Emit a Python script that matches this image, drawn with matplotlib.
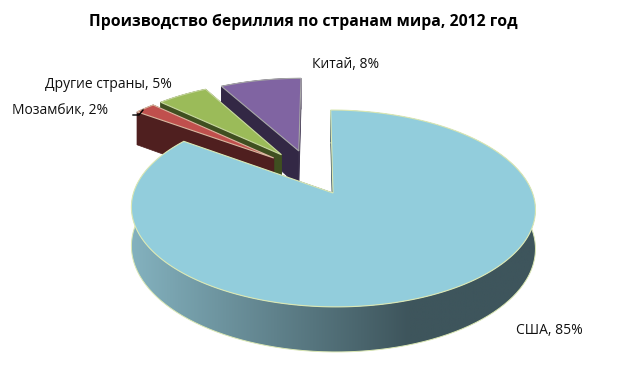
import numpy as np
import matplotlib
matplotlib.use('Agg')
import matplotlib.pyplot as plt
from matplotlib.colors import LinearSegmentedColormap
from matplotlib.patches import Polygon

categories = ['США', 'Мозамбик', 'Другие страны', 'Китай']
shares = [85, 2, 5, 8]

top_colors = ['#92cddc', '#c0504d', '#9bbb59', '#8064a2']
side_colors = ['#3e555c', '#4f1f1f', '#3f4f20', '#332845']
edge_colors = ['#dbe8b4', '#d8b8a0', '#c8d8a0', '#a8a8a8']
label_pos = [(516, 330), (12, 111), (45, 84), (312, 64)]

# projection of the pie plane onto the picture (pixels)
XV, Y0 = 316, 193
XC = 17
A, B, K = 199.5, 96, 0.157
DEPTH = 38
EXPLODE = 0.253

plt.rcParams['font.family'] = ['Open Sans', 'DejaVu Sans']

fig = plt.figure(figsize=(6.2, 3.7), dpi=100)
ax = fig.add_axes([0, 0, 1, 1])
ax.set_xlim(0, 620)
ax.set_ylim(370, 0)
ax.axis('off')


def project(u, v, low=False):
    w = 1 + K * v
    x = XV + (A * u + XC) / w
    y = Y0 - B * v / w
    if low:
        y = y + DEPTH / w
    return np.column_stack([x, y])


fractions = np.array(shares) / sum(shares)
ends = np.cumsum(fractions) * 2 * np.pi
starts = ends - fractions * 2 * np.pi
mids = (starts + ends) / 2

# the big slice sits at the origin, the others are moved relative to it
off_u = EXPLODE * (np.sin(mids) - np.sin(mids[0]))
off_v = EXPLODE * (np.cos(mids) - np.cos(mids[0]))

shade = LinearSegmentedColormap.from_list('shade', [(0, '#84b2bf'), (0.68, side_colors[0]), (1, side_colors[0])])

for i in [3, 2, 1, 0]:
    t = np.linspace(starts[i], ends[i], 400)
    u = off_u[i] + np.sin(t)
    v = off_v[i] + np.cos(t)
    ou, ov = np.array([off_u[i]]), np.array([off_v[i]])
    arc_top = project(u, v)
    arc_low = project(u, v, low=True)
    apex_top = project(ou, ov)
    apex_low = project(ou, ov, low=True)
    z = i * -3 + 10

    # radial faces
    for j in [0, -1]:
        face = np.vstack([apex_top, arc_top[j], arc_low[j], apex_low])
        ax.add_patch(Polygon(face, closed=True, fc=side_colors[i], ec=side_colors[i], lw=0.5, zorder=z))

    # outer side, the big slice gets a left to right shading
    side = np.vstack([arc_top, arc_low[::-1]])
    if i == 0:
        clip = Polygon(side, closed=True, fc='none', ec='none', zorder=z)
        ax.add_patch(clip)
        grad = np.linspace(0, 1, 256).reshape(1, -1)
        im = ax.imshow(grad, cmap=shade, extent=[130, 540, 370, 100], aspect='auto', zorder=z)
        im.set_clip_path(clip)
        ax.plot(arc_low[:, 0], arc_low[:, 1], color=edge_colors[i], lw=0.7, zorder=z + 0.5)
    else:
        ax.add_patch(Polygon(side, closed=True, fc=side_colors[i], ec=side_colors[i], lw=0.5, zorder=z))

    top = np.vstack([apex_top, arc_top])
    ax.add_patch(Polygon(top, closed=True, fc=top_colors[i], ec=edge_colors[i], lw=0.8, zorder=z + 1))

ax.set_xlim(0, 620)
ax.set_ylim(370, 0)

ax.text(303, 22, 'Производство бериллия по странам мира, 2012 год', ha='center', va='center',
        fontsize=11.3, fontweight='bold', color='black')

for name, share, pos in zip(categories, shares, label_pos):
    ax.text(pos[0], pos[1], f'{name}, {share}%', ha='left', va='center', fontsize=10, color='#111111')

# leader of the small slice
ax.plot([133, 139, 143], [115, 115, 110], color='black', lw=1, zorder=20)

fig.savefig('out.png', dpi=100)
